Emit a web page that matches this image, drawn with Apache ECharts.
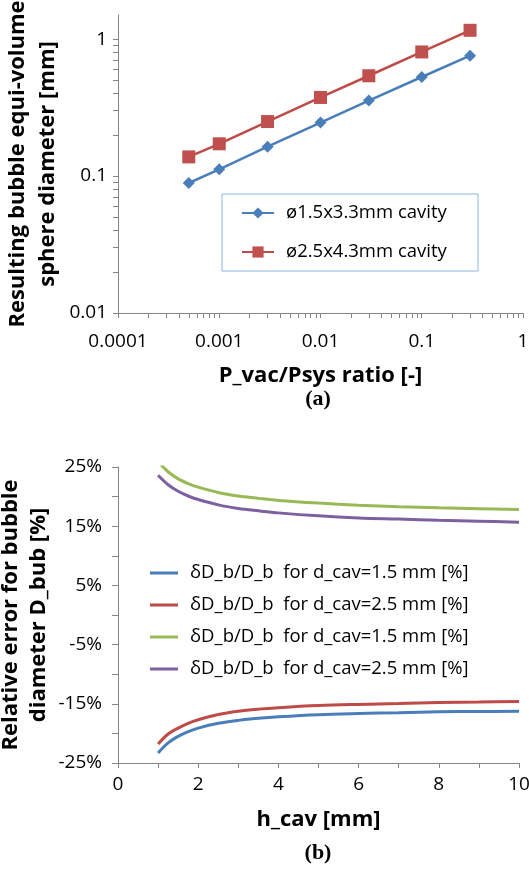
<!DOCTYPE html>
<html>
<head>
<meta charset="utf-8">
<script src="https://cdn.jsdelivr.net/npm/echarts@6/dist/echarts.min.js"></script>
<style>
html, body { margin: 0; padding: 0; background: #fff; }
#main { width: 529px; height: 869px; }
</style>
</head>
<body>
<div id="main"></div>
<script>
// (a) bubble diameter vs P_vac/Psys
var ratioA = [0.0005, 0.001, 0.003, 0.01, 0.03, 0.1, 0.3];
var diam15 = [0.089, 0.112, 0.164, 0.246, 0.356, 0.529, 0.757];
var diam25 = [0.138, 0.172, 0.250, 0.375, 0.540, 0.806, 1.16];
var namesA = ['ø1.5x3.3mm cavity', 'ø2.5x4.3mm cavity'];
var xMajorA = [0.0001, 0.001, 0.01, 0.1, 1];
var yMajorA = [0.01, 0.1, 1];

// (b) relative error vs h_cav, in %
var hCav = [1, 1.25, 1.5, 1.75, 2, 2.5, 3, 3.5, 4, 5, 6, 7, 8, 9, 10];
var errNeg15 = [-23.3, -21.6, -20.5, -19.7, -19.1, -18.3, -17.8, -17.45, -17.2, -16.85, -16.65, -16.5, -16.35, -16.3, -16.25];
var errNeg25 = [-21.8, -20.1, -19.1, -18.3, -17.7, -16.8, -16.25, -15.9, -15.65, -15.3, -15.1, -14.95, -14.8, -14.7, -14.6];
var errPos15 = [25.9, 24.2, 23.0, 22.2, 21.6, 20.7, 20.1, 19.7, 19.35, 18.9, 18.55, 18.3, 18.1, 17.95, 17.8];
var errPos25 = [23.6, 22.0, 20.9, 20.1, 19.5, 18.6, 18.0, 17.6, 17.25, 16.75, 16.4, 16.2, 16.0, 15.85, 15.65];
var keysB = ['neg15', 'neg25', 'pos15', 'pos25'];
var labelsB = ['δD_b/D_b  for d_cav=1.5 mm [%]', 'δD_b/D_b  for d_cav=2.5 mm [%]',
               'δD_b/D_b  for d_cav=1.5 mm [%]', 'δD_b/D_b  for d_cav=2.5 mm [%]'];

var FONT = '"Open Sans", "Noto Sans", sans-serif';
var AXIS_GREY = '#868686';

// 1..9 x each decade, for the excel style log ticks
function logTicks(majors, max) {
    var out = [];
    for (var i = 0; i < majors.length; i++) {
        for (var k = 1; k <= 9; k++) {
            var v = +(majors[i] * k).toPrecision(2);
            if (v <= max) out.push(v);
        }
    }
    return out;
}

function pairs(xs, ys) {
    var d = [];
    for (var i = 0; i < xs.length; i++) d.push([xs[i], ys[i]]);
    return d;
}

var chart = echarts.init(document.getElementById('main'), null, {renderer: 'canvas'});

var labelStyle = {fontFamily: FONT, fontSize: 19, color: '#000'};
var titleStyle = {fontFamily: FONT, fontSize: 22, fontWeight: 'bold', color: '#000', lineHeight: 30};
var titleStyleB = Object.assign({}, titleStyle, {lineHeight: 28});

var colorsB = ['#4A7EBB', '#BE4B48', '#98B954', '#7D60A0'];
var valsB = [errNeg15, errNeg25, errPos15, errPos25];

var seriesB = [];
var legendDataB = [];
for (var s = 0; s < keysB.length; s++) {
    seriesB.push({
        name: keysB[s],
        type: 'line',
        xAxisIndex: 1,
        yAxisIndex: 1,
        data: pairs(hCav, valsB[s]),
        symbol: 'none',
        smooth: 0.35,
        lineStyle: {width: 3, color: colorsB[s]},
        itemStyle: {color: colorsB[s]}
    });
    legendDataB.push({name: keysB[s], icon: 'rect'});
}

var option = {
    animation: false,
    backgroundColor: '#fff',
    grid: [
        {left: 118, top: 15, width: 405, height: 298, outerBoundsMode: 'none'},
        {left: 118, top: 467, width: 401, height: 296, outerBoundsMode: 'none'}
    ],
    xAxis: [
        {
            gridIndex: 0,
            type: 'log',
            logBase: 10,
            min: 0.0001,
            max: 1,
            name: 'P_vac/Psys ratio [-]',
            nameLocation: 'middle',
            nameGap: 48,
            nameMoveOverlap: false,
            nameTextStyle: titleStyle,
            axisLine: {onZero: false, lineStyle: {color: AXIS_GREY}},
            axisTick: {show: true, length: 5, inside: false, customValues: logTicks(xMajorA, 1), lineStyle: {color: AXIS_GREY}},
            axisLabel: Object.assign({margin: 19, customValues: xMajorA, formatter: function (v) { return String(+(+v).toPrecision(1)); }}, labelStyle),
            splitLine: {show: false}
        },
        {
            gridIndex: 1,
            type: 'value',
            min: 0,
            max: 10,
            interval: 2,
            name: 'h_cav [mm]',
            nameLocation: 'middle',
            nameGap: 42,
            nameMoveOverlap: false,
            nameTextStyle: titleStyle,
            axisLine: {onZero: false, lineStyle: {color: AXIS_GREY}},
            axisTick: {length: 5, lineStyle: {color: AXIS_GREY}},
            minorTick: {show: true, splitNumber: 2, length: 5, lineStyle: {color: AXIS_GREY}},
            axisLabel: Object.assign({margin: 12}, labelStyle),
            splitLine: {show: false}
        }
    ],
    yAxis: [
        {
            gridIndex: 0,
            type: 'log',
            logBase: 10,
            min: 0.01,
            max: 1.5,
            name: 'Resulting bubble equi-volume\nsphere diameter [mm]',
            nameLocation: 'middle',
            nameGap: 55,
            nameMoveOverlap: false,
            nameTextStyle: titleStyle,
            axisLine: {show: true, onZero: false, lineStyle: {color: AXIS_GREY}},
            axisTick: {show: true, length: 5, customValues: logTicks(yMajorA, 1.5), lineStyle: {color: AXIS_GREY}},
            axisLabel: Object.assign({margin: 11, customValues: yMajorA, formatter: function (v) { return String(+(+v).toPrecision(1)); }}, labelStyle),
            splitLine: {show: false}
        },
        {
            gridIndex: 1,
            type: 'value',
            min: -25,
            max: 25,
            interval: 10,
            name: 'Relative error for bubble\ndiameter D_bub [%]',
            nameLocation: 'middle',
            nameGap: 65,
            nameMoveOverlap: false,
            nameTextStyle: titleStyleB,
            axisLine: {show: true, onZero: false, lineStyle: {color: AXIS_GREY}},
            axisTick: {show: true, length: 6, lineStyle: {color: AXIS_GREY}},
            minorTick: {show: true, splitNumber: 2, length: 6, lineStyle: {color: AXIS_GREY}},
            axisLabel: Object.assign({margin: 16, formatter: '{value}%'}, labelStyle),
            splitLine: {show: false}
        }
    ],
    legend: [
        {
            data: namesA,
            orient: 'vertical',
            left: 222,
            top: 194,
            padding: [8, 2, 8, 19],
            itemWidth: 32,
            itemHeight: 14,
            itemGap: 17,
            borderColor: '#8DB4E2',
            borderWidth: 1,
            backgroundColor: '#fff',
            selectedMode: false,
            textStyle: {fontFamily: FONT, fontSize: 18.5, color: '#000', lineHeight: 22, width: 190, padding: [0, 0, 0, 7]}
        },
        {
            data: legendDataB,
            orient: 'vertical',
            left: 150,
            top: 562,
            padding: 0,
            itemWidth: 28,
            itemHeight: 3,
            itemGap: 10,
            selectedMode: false,
            formatter: function (name) { return labelsB[keysB.indexOf(name)]; },
            textStyle: {fontFamily: FONT, fontSize: 18.5, color: '#000', lineHeight: 22, padding: [0, 0, 0, 7]}
        }
    ],
    graphic: [
        {type: 'text', x: 318, y: 399, style: {text: '(a)', font: 'bold 22px "Liberation Serif", serif', fill: '#000', textAlign: 'center', textVerticalAlign: 'middle'}},
        {type: 'text', x: 318, y: 853, style: {text: '(b)', font: 'bold 22px "Liberation Serif", serif', fill: '#000', textAlign: 'center', textVerticalAlign: 'middle'}}
    ],
    series: [
        {
            name: namesA[0],
            type: 'line',
            xAxisIndex: 0,
            yAxisIndex: 0,
            data: pairs(ratioA, diam15),
            symbol: 'diamond',
            symbolSize: 12,
            lineStyle: {width: 2.5, color: '#4A7EBB'},
            itemStyle: {color: '#4A7EBB'}
        },
        {
            name: namesA[1],
            type: 'line',
            xAxisIndex: 0,
            yAxisIndex: 0,
            data: pairs(ratioA, diam25),
            symbol: 'rect',
            symbolSize: 13,
            lineStyle: {width: 2.5, color: '#BE4B48'},
            itemStyle: {color: '#C0504D'}
        }
    ].concat(seriesB)
};

chart.setOption(option);
</script>
</body>
</html>
